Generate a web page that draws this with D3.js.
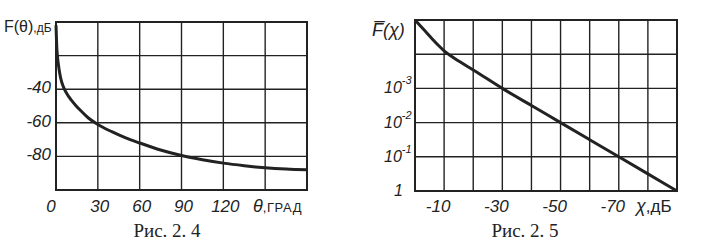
<!DOCTYPE html>
<html>
<head>
<meta charset="utf-8">
<script src="https://cdn.jsdelivr.net/npm/d3@7"></script>
<style>
  body { margin: 0; background: #fff; }
  svg { display: block; }
  .hand { font-family: "Liberation Sans", "DejaVu Sans", sans-serif; font-style: italic; fill: #222; }
  .cap { font-family: "Liberation Serif", "DejaVu Serif", serif; fill: #222; }
</style>
</head>
<body>
<div id="chart"></div>
<script>
// Fig 2.4: F(theta), dB
const thetaDeg = [0, 0.5, 1, 2, 3, 4, 5, 6, 7.5, 9, 11, 14, 18, 23, 30, 40, 50, 60, 75, 90, 105, 120, 135, 150, 165, 180];
const fTheta   = [-2, -14, -20, -27, -32, -35.5, -38, -40, -42.3, -44.3, -46.5, -49.5, -53, -57, -61, -65.3, -69, -72, -76.2, -79.5, -82, -84, -85.5, -86.7, -87.5, -88];
const thetaTicks = [0, 30, 60, 90, 120];
const thetaGrid = [30, 60, 90, 120, 150];
const fThetaTicks = [-40, -60, -80];
const fThetaGrid = [-20, -40, -60, -80];

// Fig 2.5: F(chi), log scale (exponents)
const chiDb  = [0, -3, -6, -8, -10, -12, -15, -20, -30, -40, -50, -60, -70, -80, -90];
const fChiExp = [-5, -4.72, -4.44, -4.26, -4.1, -3.97, -3.8, -3.54, -3.0, -2.5, -2.0, -1.5, -1.0, -0.5, 0];
const chiTicks = [-10, -30, -50, -70];
const chiGrid = [-10, -20, -30, -40, -50, -60, -70, -80];
const fChiTicks = [["10", "-3", 1e-3], ["10", "-2", 1e-2], ["10", "-1", 1e-1], ["1", "", 1]];
const fChiGrid = [1e-4, 1e-3, 1e-2, 1e-1];

const ink = "#222";
const svg = d3.select("#chart").append("svg")
    .attr("width", 711)
    .attr("height", 249);

function drawGrid(g, x, y, xs, ys) {
    const [x0, x1] = x.range();
    const [y0, y1] = y.range();
    g.selectAll(".vg").data(xs).enter().append("line")
        .attr("x1", d => x(d)).attr("x2", d => x(d))
        .attr("y1", y0).attr("y2", y1)
        .attr("stroke", ink).attr("stroke-width", 1.4);
    g.selectAll(".hg").data(ys).enter().append("line")
        .attr("x1", x0).attr("x2", x1)
        .attr("y1", d => y(d)).attr("y2", d => y(d))
        .attr("stroke", ink).attr("stroke-width", 1.4);
    // frame
    g.append("rect")
        .attr("x", Math.min(x0, x1)).attr("y", Math.min(y0, y1))
        .attr("width", Math.abs(x1 - x0)).attr("height", Math.abs(y1 - y0))
        .attr("fill", "none").attr("stroke", ink).attr("stroke-width", 2);
}

// ---------- left chart ----------
const x1 = d3.scaleLinear().domain([0, 180]).range([56, 307]);
const y1 = d3.scaleLinear().domain([0, -100]).range([22, 190]);
const left = svg.append("g");
drawGrid(left, x1, y1, thetaGrid, fThetaGrid);

left.append("path")
    .datum(thetaDeg.map((t, i) => [t, fTheta[i]]))
    .attr("fill", "none")
    .attr("stroke", ink)
    .attr("stroke-width", 3)
    .attr("d", d3.line().x(d => x1(d[0])).y(d => y1(d[1])).curve(d3.curveMonotoneX));

left.selectAll(".yl").data(fThetaTicks).enter().append("text")
    .attr("class", "hand")
    .attr("x", 51).attr("y", d => y1(d) + 4)
    .attr("text-anchor", "end")
    .style("font-size", "17px")
    .text(d => "-" + Math.abs(d));

left.selectAll(".xl").data(thetaTicks).enter().append("text")
    .attr("class", "hand")
    .attr("x", d => x1(d) + (d === 0 ? -5 : 2)).attr("y", 212)
    .attr("text-anchor", "middle")
    .style("font-size", "17px")
    .text(d => d);

const tl = left.append("text").attr("class", "hand").attr("x", 253).attr("y", 212).style("font-size", "18px");
tl.append("tspan").text("θ");
tl.append("tspan").style("font-size", "13px").style("font-style", "normal").style("letter-spacing", "0.6px").text(",ГРАД");

const ttl = left.append("text").attr("class", "hand").attr("x", 4).attr("y", 32).style("font-size", "16px").style("font-style", "normal");
ttl.append("tspan").text("F(θ)");
ttl.append("tspan").style("font-size", "12px").text(",дБ");

left.append("text").attr("class", "cap")
    .attr("x", 167).attr("y", 237)
    .attr("text-anchor", "middle")
    .style("font-size", "19px")
    .text("Рис. 2. 4");

// ---------- right chart ----------
const x2 = d3.scaleLinear().domain([0, -90]).range([415, 677]);
const y2 = d3.scaleLog().domain([1e-5, 1]).range([20, 191]);
const right = svg.append("g");
drawGrid(right, x2, y2, chiGrid, fChiGrid);

right.append("path")
    .datum(chiDb.map((c, i) => [c, 10 ** fChiExp[i]]))
    .attr("fill", "none")
    .attr("stroke", ink)
    .attr("stroke-width", 3)
    .attr("d", d3.line().x(d => x2(d[0])).y(d => y2(d[1])).curve(d3.curveMonotoneX));

fChiTicks.forEach(([base, exp, v]) => {
    const t = right.append("text").attr("class", "hand")
        .attr("x", exp ? 384 : 394).attr("y", y2(v) + 5)
        .style("font-size", "16px");
    t.append("tspan").text(base);
    if (exp) t.append("tspan").attr("dy", -9).style("font-size", "11px").text(exp);
});

right.selectAll(".xl").data(chiTicks).enter().append("text")
    .attr("class", "hand")
    .attr("x", d => x2(d) - 6).attr("y", 212)
    .attr("text-anchor", "middle")
    .style("font-size", "17px")
    .text(d => d);

const tr = right.append("text").attr("class", "hand").attr("x", 636).attr("y", 212).style("font-size", "18px");
tr.append("tspan").text("χ");
tr.append("tspan").style("font-style", "normal").style("font-size", "17px").text(",дБ");

right.append("text").attr("class", "hand")
    .attr("x", 372).attr("y", 36)
    .style("font-size", "18px")
    .text("F\u0305(χ)");

right.append("text").attr("class", "cap")
    .attr("x", 525).attr("y", 237)
    .attr("text-anchor", "middle")
    .style("font-size", "19px")
    .text("Рис. 2. 5");
</script>
</body>
</html>
